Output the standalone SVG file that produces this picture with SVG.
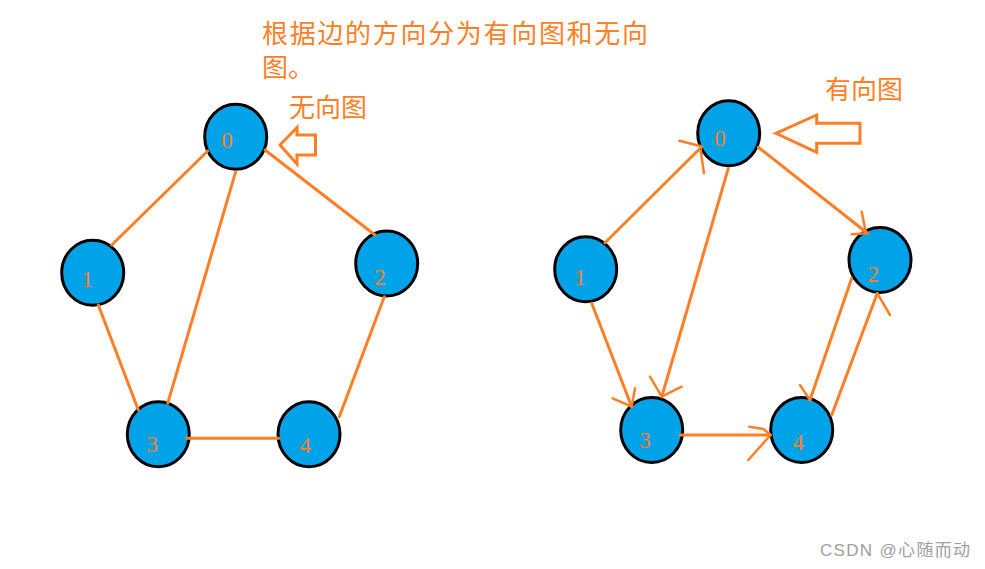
<svg xmlns="http://www.w3.org/2000/svg" width="985" height="569" viewBox="0 0 985 569">
<style>
.node ellipse{fill:#00A2E8;stroke:#000;stroke-width:3}
.node text{font-family:"Liberation Serif",serif;font-size:23px;fill:#FF7F27;text-anchor:middle}
.edge{stroke:#FF7F27;stroke-width:3;fill:none;stroke-linecap:round;stroke-linejoin:round}
.barb{stroke:#FF7F27;stroke-width:2.5;fill:none;stroke-linecap:round;stroke-linejoin:round}
.hollow{stroke:#FF7F27;stroke-width:3;fill:none;stroke-linejoin:miter}
.cap{font-family:"Noto Sans CJK SC","Liberation Sans",sans-serif;font-size:26px;fill:#FF7F27}
.wm{font-family:"Liberation Sans","Noto Sans CJK SC",sans-serif;font-size:17px;fill:#a0a0a0}
</style>
<rect width="985" height="569" fill="#fff"/>
<text class="cap" x="262" y="43" textLength="386" lengthAdjust="spacing">根据边的方向分为有向图和无向</text>
<text class="cap" x="262" y="77">图。</text>
<text class="cap" x="289" y="117">无向图</text>
<text class="cap" x="825" y="99">有向图</text>
<g id="pointer-left"><polygon class="hollow" points="280,145 297,127.5 297,135 315.5,135 315.5,155 297,155 297,164"/></g>
<g id="pointer-right"><polygon class="hollow" points="776,133.3 816.7,115 816.7,123.3 860,123.3 860,143.3 816.7,143.3 816.7,152.3"/></g>

<g id="u0" class="node"><ellipse cx="235.7" cy="136.7" rx="31" ry="32.5"/><text x="227" y="148">0</text></g>
<g id="u1" class="node"><ellipse cx="92.7" cy="272.7" rx="31" ry="32.5"/><text x="87.3" y="286.5">1</text></g>
<g id="u2" class="node"><ellipse cx="386.7" cy="263.5" rx="31" ry="32.5"/><text x="380" y="285">2</text></g>
<g id="u3" class="node"><ellipse cx="158.3" cy="434.3" rx="31" ry="32.5"/><text x="152.3" y="451.5">3</text></g>
<g id="u4" class="node"><ellipse cx="309" cy="434.3" rx="31" ry="32.5"/><text x="305.3" y="453">4</text></g>

<g id="d0" class="node"><ellipse cx="728.7" cy="133.3" rx="31" ry="32.5"/><text x="720" y="145.5">0</text></g>
<g id="d1" class="node"><ellipse cx="585.7" cy="269.3" rx="31" ry="32.5"/><text x="580" y="285">1</text></g>
<g id="d2" class="node"><ellipse cx="880" cy="260" rx="31" ry="32.5"/><text x="873.3" y="281.5">2</text></g>
<g id="d3" class="node"><ellipse cx="651.7" cy="430" rx="31" ry="32.5"/><text x="645" y="448">3</text></g>
<g id="d4" class="node"><ellipse cx="801.7" cy="430" rx="31" ry="32.5"/><text x="798.3" y="450">4</text></g>

<g id="connectors">
<line class="edge" x1="207.7" y1="151" x2="111.7" y2="245"/>
<line class="edge" x1="235.7" y1="171.7" x2="167.7" y2="403.3"/>
<line class="edge" x1="265" y1="150" x2="375" y2="235"/>
<line class="edge" x1="98.3" y1="305" x2="138.3" y2="410"/>
<line class="edge" x1="384.3" y1="296.7" x2="339.3" y2="416.7"/>
<line class="edge" x1="186.7" y1="438.3" x2="278.7" y2="438.3"/>

<line class="edge" x1="605" y1="242.7" x2="701.7" y2="146.7"/>
<polyline class="barb" points="679.3,140.7 700,146 704,173.3"/>
<line class="edge" x1="728.3" y1="168.3" x2="661.7" y2="397"/>
<polyline class="barb" points="650,376.7 661.7,396.7 681.7,386.7"/>
<line class="edge" x1="758.3" y1="147.3" x2="867.5" y2="233.3"/>
<polyline class="barb" points="861.7,211.7 866,233.3 851.7,234.3"/>
<line class="edge" x1="591.7" y1="303.3" x2="631.7" y2="406.7"/>
<polyline class="barb" points="612.7,398.3 631.7,406.7 635,388.3"/>
<line class="edge" x1="851.7" y1="278.3" x2="810" y2="400"/>
<polyline class="barb" points="800,385 810,400"/>
<line class="edge" x1="831.7" y1="415" x2="877.3" y2="293.3"/>
<polyline class="barb" points="877.3,293.3 890,315"/>
<line class="edge" x1="680" y1="435" x2="770" y2="435"/>
<polyline class="barb" points="749.3,426.7 763.3,429 770.7,435 748.3,460"/>
</g>
<text class="wm" x="820" y="556" textLength="150" lengthAdjust="spacing">CSDN @心随而动</text>
</svg>
